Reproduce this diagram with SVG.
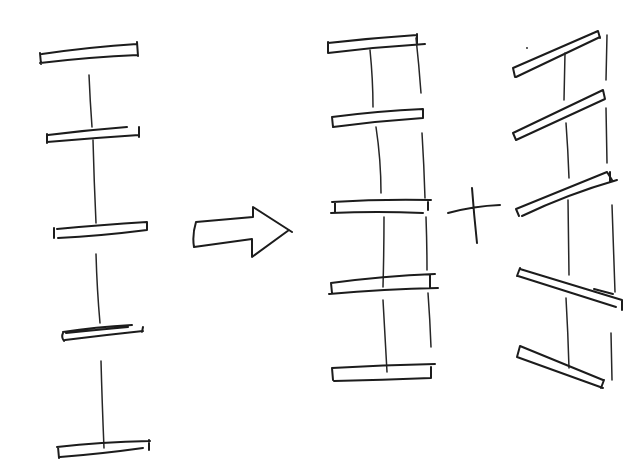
<svg xmlns="http://www.w3.org/2000/svg" width="629" height="459" viewBox="0 0 629 459">
<style>
.s{fill:none;stroke:#1c1c1c;stroke-width:2;stroke-linecap:round;stroke-linejoin:round}
.t{fill:none;stroke:#262626;stroke-width:1.5;stroke-linecap:round}
</style>
<rect width="629" height="459" fill="#ffffff"/>
<g id="steps-column" class="s">
<path d="M42 54 Q90 47 137 44 M40 63 Q90 57 138 55 M40 53 L41 64 M137 42 L138 56"/>
<path class="t" d="M89 75 Q90 100 92 127"/>
<path d="M48 135 Q88 130 127 127 M47 142 Q93 138 139 135 M47 134 L47 143 M139 127 L139 137"/>
<path class="t" d="M93 140 Q94 180 96 223"/>
<path d="M57 229 Q100 225 147 222 M58 238 Q100 236 147 230 M54 228 L54 238 M147 222 L147 230"/>
<path class="t" d="M96 254 Q97 290 100 323"/>
<path d="M63 332 Q95 327 132 325 M66 333 Q95 330 128 327 M65 340 Q105 335 143 331 M63 333 Q61 337 64 341 M143 327 L142 332"/>
<path class="t" d="M101 361 Q102 400 104 448"/>
<path d="M57 447 Q100 442 150 441 M60 457 Q100 454 143 448 M58 447 L59 458 M149 440 L149 450"/>
</g>
<g id="arrow" class="s">
<path d="M196 222 L253 217 L253 207 L292 232 M289 230 L252 257 L252 239 L194 247 Q192 235 196 222"/>
</g>
<g id="ladder" class="s">
<path d="M328 43 Q372 38 417 35 M328 53 Q376 47 425 44 M328 42 L328 53 M417 34 L417 45"/>
<path class="t" d="M370 50 Q373 80 373 107 M416 38 Q419 65 421 93"/>
<path d="M332 117 Q378 111 423 109 M333 127 Q378 121 423 118 M332 117 L333 127 M423 109 L423 118"/>
<path class="t" d="M376 127 Q381 160 381 193 M422 133 Q424 165 425 198"/>
<path d="M332 202 Q380 199 431 200 M331 213 Q377 211 423 213 M335 202 L335 213 M428 202 L428 210"/>
<path class="t" d="M384 217 Q384 250 383 287 M426 217 Q427 245 427 270"/>
<path d="M331 283 Q383 276 435 274 M329 294 Q385 289 438 288 M331 283 L332 293 M430 275 L430 288"/>
<path class="t" d="M383 300 Q385 335 387 372 M428 293 Q430 320 431 347"/>
<path d="M332 368 Q383 365 435 364 M334 381 Q382 380 431 378 M332 368 L333 380 M431 367 L431 378"/>
</g>
<g id="plus" class="s">
<path d="M472 188 Q474 215 477 243 M448 213 Q474 206 500 205"/>
</g>
<g id="tilted-ladder" class="s">
<path d="M513 68 L598 31 M516 77 L600 37 M513 68 L515 77 M598 31 L600 38"/>
<circle cx="527" cy="48" r="0.9" fill="#1c1c1c" stroke="none"/>
<path class="t" d="M565 53 L564 100 M607 35 L606 80"/>
<path d="M513 133 L603 90 M516 140 L605 99 M513 133 L516 140 M603 90 L605 99"/>
<path class="t" d="M566 123 Q568 150 569 178 M606 108 L607 163"/>
<path d="M516 209 L607 172 M522 216 Q568 194 617 180 M516 209 L519 216 M607 172 L612 180 M610 172 L610 182"/>
<path class="t" d="M568 200 L569 275 M612 205 L615 292"/>
<path d="M520 269 L622 300 M518 276 L616 307 M520 268 L517 276 M622 300 L622 310 M594 289 L613 294"/>
<path class="t" d="M566 298 Q568 333 569 368 M611 333 L612 380"/>
<path d="M520 346 L603 380 M517 357 L603 388 M520 346 L517 357 M604 380 L601 388"/>
</g>
</svg>
